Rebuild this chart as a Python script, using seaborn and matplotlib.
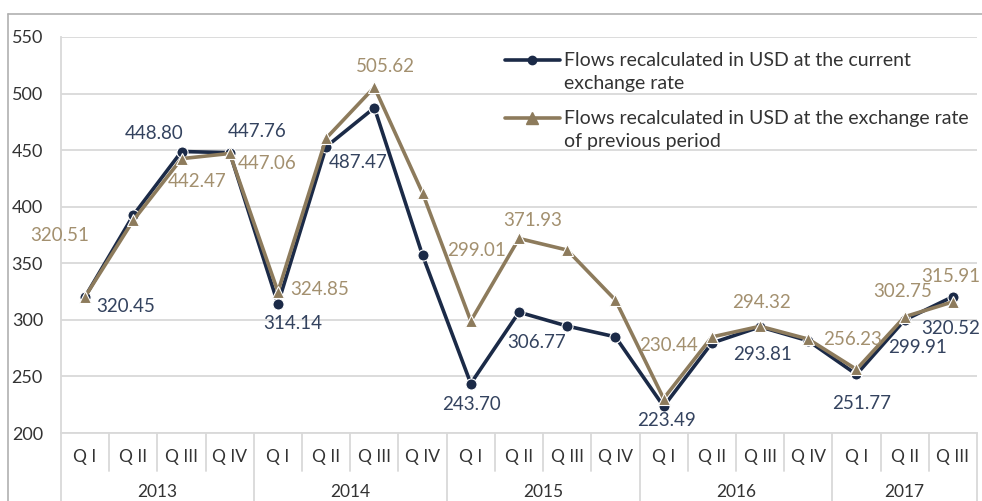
import matplotlib
matplotlib.use("Agg")
import matplotlib.pyplot as plt
from matplotlib.lines import Line2D
import seaborn as sns
import pandas as pd
import numpy as np

# Datos
years = ["2013", "2014", "2015", "2016", "2017"]
quarters_per_year = [4, 4, 4, 4, 3]
quarter_names = ["Q I", "Q II", "Q III", "Q IV"]

current_rate = [320.45, 392.5, 448.80, 447.76,
                314.14, 453.0, 487.47, 357.0,
                243.70, 306.77, 294.5, 285.0,
                223.49, 279.5, 293.81, 281.5,
                251.77, 299.91, 320.52]
previous_rate = [320.51, 388.0, 442.47, 447.06,
                 324.85, 460.5, 505.62, 412.0,
                 299.01, 371.93, 361.7, 317.5,
                 230.44, 284.9, 294.32, 283.0,
                 256.23, 302.75, 315.91]

# Valores rotulados (None = sin rótulo)
current_labels = ["320.45", None, "448.80", "447.76",
                  "314.14", None, "487.47", None,
                  "243.70", "306.77", None, None,
                  "223.49", None, "293.81", None,
                  "251.77", "299.91", "320.52"]
previous_labels = ["320.51", None, "442.47", "447.06",
                   "324.85", None, "505.62", None,
                   "299.01", "371.93", None, None,
                   "230.44", None, "294.32", None,
                   "256.23", "302.75", "315.91"]

series_names = ["Flows recalculated in USD at the current\nexchange rate",
                "Flows recalculated in USD at the exchange rate\nof previous period"]

# Desplazamientos de los rótulos (píxeles)
current_offsets = [(41, -10), None, (-27, 18), (27, 21),
                   (15, -20), None, (-16, -55), None,
                   (1, -21), (18, -30), None, None,
                   (3, -14), None, (2, -28), None,
                   (5, -29), (13, -28), (-2, -32)]
previous_offsets = [(-25, 61), None, (16, -23), (37, -10),
                    (42, 2), None, (11, 21), None,
                    (6, 70), (14, 18), None, None,
                    (5, 53), None, (1, 24), None,
                    (-4, 30), (-2, 25), (-2, 25)]

NAVY = "#1b2a47"
TAN = "#8d7b5c"
NAVY_TXT = "#34435f"
TAN_TXT = "#a3906f"
GRID = "#d9d9d9"

sns.set_theme(style="white")
plt.rcParams['font.family'] = ['Lato', 'DejaVu Sans']

quarter_labels = [quarter_names[q] for n in quarters_per_year for q in range(n)]
pos = np.arange(len(quarter_labels))

df = pd.DataFrame({
    "pos": np.concatenate([pos, pos]),
    "value": current_rate + previous_rate,
    "series": [series_names[0]] * len(pos) + [series_names[1]] * len(pos),
})

W, H = 982, 501
fig = plt.figure(figsize=(W / 100, H / 100), dpi=100)
ax = fig.add_axes([61 / W, 68 / H, (977 - 61) / W, (433 - 37) / H])

sns.lineplot(data=df, x="pos", y="value", hue="series", style="series",
             palette=[NAVY, TAN], markers=["o", "^"], dashes=False,
             linewidth=2.6, markersize=8, markeredgewidth=0.8,
             ax=ax, legend=False)

ax.set_xlim(-0.5, len(pos) - 0.5)
ax.set_ylim(200, 550)
ax.set_yticks(np.arange(200, 551, 50))
ax.yaxis.grid(True, color=GRID, linewidth=1.3)
ax.set_axisbelow(True)
ax.set_xlabel("")
ax.set_ylabel("")
ax.set_xticks([])
ax.tick_params(axis="y", labelsize=13, colors="#333333", length=6,
               color=GRID, pad=7)
for s in ["top", "right"]:
    ax.spines[s].set_visible(False)
for s in ["left", "bottom"]:
    ax.spines[s].set_color(GRID)
    ax.spines[s].set_linewidth(1.3)

# Rótulos de datos
for vals, labs, offs, col in [(current_rate, current_labels, current_offsets, NAVY_TXT),
                              (previous_rate, previous_labels, previous_offsets, TAN_TXT)]:
    for i, (v, lab, off) in enumerate(zip(vals, labs, offs)):
        if lab is None:
            continue
        ax.annotate(lab, (pos[i], v), xytext=off, textcoords="offset pixels",
                    ha="center", va="center", fontsize=13.5, color=col)

# Eje de categorías en dos niveles
trans = ax.get_xaxis_transform()
for i, q in enumerate(quarter_labels):
    ax.text(pos[i], -0.06, q, transform=trans, ha="center", va="center",
            fontsize=12.5, color="#333333")
bounds = np.cumsum([0] + quarters_per_year)
for k in range(len(pos) + 1):
    x = k - 0.5
    depth = 68 / 396 if k in bounds else 38 / 396
    ax.plot([x, x], [0, -depth], transform=trans, color=GRID,
            linewidth=1.3, clip_on=False)
for y, a, b in zip(years, bounds[:-1], bounds[1:]):
    ax.text((a + b - 1) / 2, -0.15, y, transform=trans, ha="center",
            va="center", fontsize=12.5, color="#333333")

# Leyenda (dibujada a mano para controlar el interlineado)
legend_rows = [60, 118]
for name, color, marker, ms, row in zip(series_names, [NAVY, TAN], ["o", "^"],
                                        [6, 8], legend_rows):
    y = 1 - row / H
    fig.add_artist(Line2D([505 / W, 560 / W], [y, y], color=color,
                          linewidth=2.6))
    fig.add_artist(Line2D([532 / W], [y], color=color, marker=marker,
                          markersize=ms, linestyle="none"))
    fig.text(564 / W, 1 - (row - 8) / H, name, ha="left", va="top",
             fontsize=14, color="#333333", linespacing=1.45)

# Marco exterior
fig.add_artist(Line2D([8 / W, 1], [1 - 14 / H, 1 - 14 / H],
                      color="#b0b0b0", linewidth=1.2))
fig.add_artist(Line2D([8 / W, 8 / W], [0, 1 - 14 / H],
                      color="#b0b0b0", linewidth=1.2))

fig.savefig("out.png", dpi=100)
